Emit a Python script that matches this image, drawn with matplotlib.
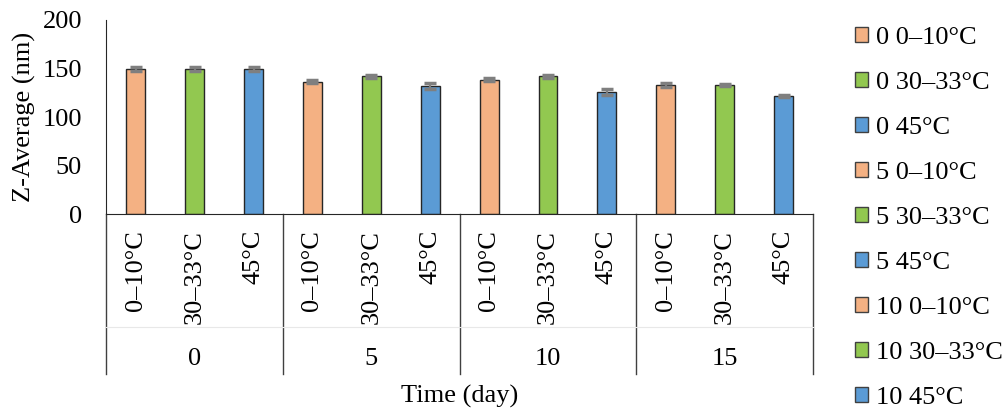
import matplotlib
matplotlib.use("Agg")
import matplotlib.pyplot as plt
from matplotlib.patches import Patch

plt.rcParams['font.family'] = ['Liberation Serif', 'DejaVu Serif']
plt.rcParams['font.size'] = 19

# data
days = ['0', '5', '10', '15']
temps = ['0–10°C', '30–33°C', '45°C']
z_avg = [149.5, 149.5, 149.5,
         136.5, 142.0, 132.0,
         138.5, 142.0, 126.0,
         133.0, 133.3, 121.8]
z_err = [1.8, 1.8, 1.8,
         1.8, 1.8, 3.4,
         1.8, 1.8, 2.7,
         1.8, 1.2, 1.5]
colors = ['#F4B183', '#92C850', '#5B9BD5']

fig = plt.figure(figsize=(10.08, 4.13), dpi=100)
ax = fig.add_axes([0.1055, 0.4811, 0.701, 0.4705])

n = len(z_avg)
x = list(range(n))
bar_colors = [colors[i % 3] for i in x]
ax.bar(x, z_avg, width=0.32, color=bar_colors, edgecolor='#262626', linewidth=1.0,
       yerr=z_err, ecolor='#7F7F7F', capsize=4.5,
       error_kw=dict(elinewidth=1.6, capthick=2.5), zorder=2)

ax.set_xlim(-0.5, n - 0.5)
ax.set_ylim(0, 200)
ax.set_yticks([0, 50, 100, 150, 200])
ax.tick_params(axis='y', length=0, pad=17.5)
ax.set_xticks([])
ax.spines['top'].set_visible(False)
ax.spines['right'].set_visible(False)
ax.spines['left'].set_color('#262626')
ax.spines['bottom'].set_color('#262626')
ax.set_ylabel('Z-Average (nm)', labelpad=5)

# two-level category axis
tr = ax.get_xaxis_transform()
for i in x:
    ax.text(i, -0.08, temps[i % 3], rotation=90, ha='center', va='top',
            transform=tr)
for g in range(len(days) + 1):
    xb = g * 3 - 0.5
    ax.plot([xb, xb], [0, -0.822], color='#404040', lw=1.0, transform=tr,
            clip_on=False)
ax.plot([-0.5, n - 0.5], [-0.58, -0.58], color='#E8E8E8', lw=0.8,
        transform=tr, clip_on=False)
for g, d in enumerate(days):
    ax.text(g * 3 + 1, -0.745, d, ha='center', va='center', transform=tr)

fig.text(460 / 1008, 1 - 396 / 413, 'Time (day)', ha='center', va='center')

# legend (series names: day + temperature)
handles = []
labels = []
for d in days[:3]:
    for j, t in enumerate(temps):
        handles.append(Patch(facecolor=colors[j], edgecolor='#404040', linewidth=1.0))
        labels.append(f'{d} {t}')
fig.legend(handles, labels, loc='upper left', bbox_to_anchor=(855 / 1008, 1 - 27 / 413),
           frameon=False, borderpad=0, borderaxespad=0, handlelength=0.5,
           handleheight=0.5, handletextpad=0.3, labelspacing=0.87)

fig.savefig('out.png', dpi=100)
